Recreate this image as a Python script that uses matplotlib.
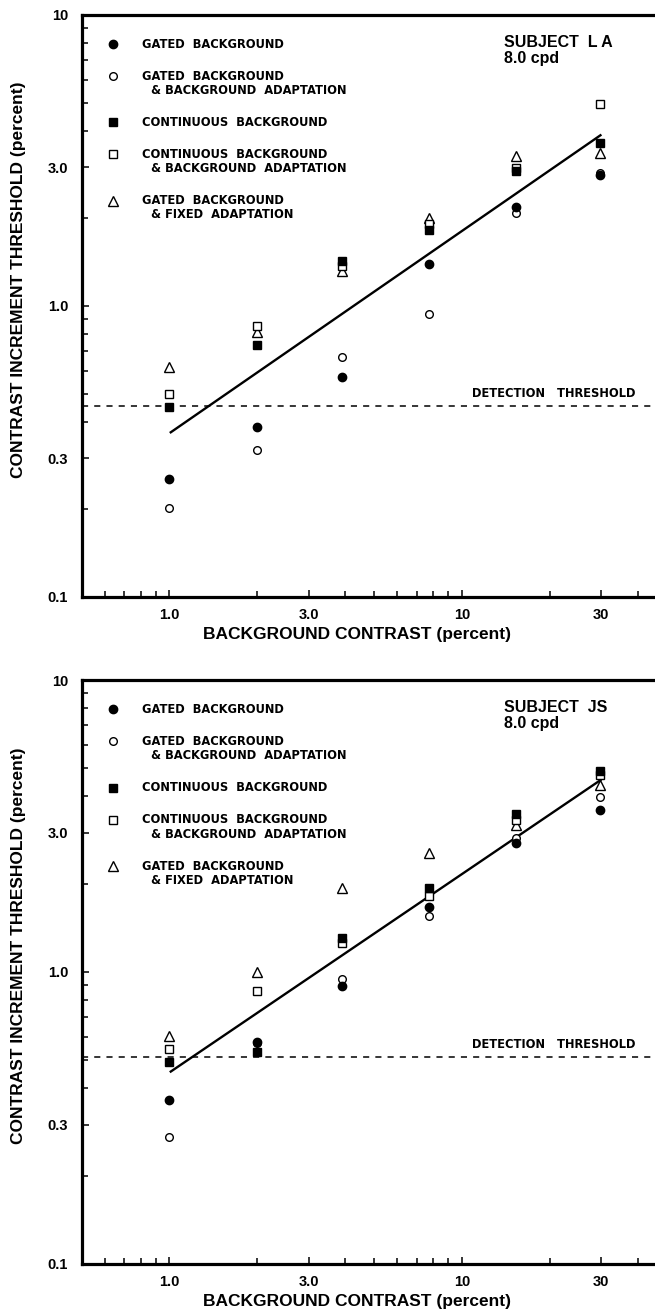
import matplotlib
matplotlib.use("Agg")
import matplotlib.pyplot as plt
from matplotlib.ticker import FixedLocator, FixedFormatter, NullFormatter

# background contrast (percent) used for both subjects
bg_contrast = [1.0, 2.0, 3.9, 7.7, 15.3, 29.8]

# subject LA
la_gated = [0.254, 0.385, 0.571, 1.39, 2.18, 2.82]
la_gated_adapt = [0.202, 0.320, 0.669, 0.94, 2.09, 2.86]
la_cont = [0.449, 0.735, 1.43, 1.83, 2.90, 3.64]
la_cont_adapt = [0.498, 0.853, 1.37, 1.91, 2.97, 4.95]
la_gated_fixed = [0.617, 0.814, 1.32, 2.01, 3.28, 3.35]
la_fit_x = [1.01, 29.8]
la_fit_y = [0.368, 3.86]
la_detection = 0.453

# subject JS
js_gated = [0.365, 0.577, 0.896, 1.67, 2.76, 3.59]
js_gated_adapt = [0.273, 0.570, 0.944, 1.55, 2.87, 3.98]
js_cont = [0.493, 0.533, 1.31, 1.94, 3.48, 4.89]
js_cont_adapt = [0.544, 0.863, 1.26, 1.82, 3.32, 4.73]
js_gated_fixed = [0.604, 1.00, 1.94, 2.56, 3.19, 4.37]
js_fit_x = [1.01, 29.8]
js_fit_y = [0.456, 4.54]
js_detection = 0.513

legend_labels = [
    ["GATED  BACKGROUND"],
    ["GATED  BACKGROUND", "& BACKGROUND  ADAPTATION"],
    ["CONTINUOUS  BACKGROUND"],
    ["CONTINUOUS  BACKGROUND", "& BACKGROUND  ADAPTATION"],
    ["GATED  BACKGROUND", "& FIXED  ADAPTATION"],
]

x_major = [1, 3, 10, 30]
x_major_labels = ["1.0", "3.0", "10", "30"]
x_minor = [0.6, 0.7, 0.8, 0.9, 2, 4, 5, 6, 7, 8, 9, 20, 40]
y_major = [0.1, 0.3, 1, 3, 10]
y_major_labels = ["0.1", "0.3", "1.0", "3.0", "10"]
y_minor = [0.2, 0.4, 0.5, 0.6, 0.7, 0.8, 0.9, 2, 4, 5, 6, 7, 8, 9]

# marker styles, same order as the legend
styles = [
    dict(marker="o", ms=6.0, mfc="black", mec="black"),
    dict(marker="o", ms=5.5, mfc="white", mec="black"),
    dict(marker="s", ms=5.5, mfc="black", mec="black"),
    dict(marker="s", ms=5.5, mfc="white", mec="black"),
    dict(marker="^", ms=6.5, mfc="white", mec="black"),
]

FONT = "Liberation Sans"
LEGFONT = "DejaVu Sans"


def draw_panel(ax, series, fit_x, fit_y, detection, subject):
    ax.set_xscale("log")
    ax.set_yscale("log")
    ax.set_xlim(0.502, 45.8)
    ax.set_ylim(0.1, 10)

    # draw open symbols first, filled on top
    for idx in [4, 3, 1, 2, 0]:
        ax.plot(bg_contrast, series[idx], ls="none", mew=1.0, zorder=3, **styles[idx])

    ax.plot(fit_x, fit_y, color="black", lw=1.7, zorder=2)
    ax.axhline(detection, color="black", lw=1.1, ls=(0, (4, 4)), zorder=1)
    ax.annotate("DETECTION   THRESHOLD", xy=(0.681, detection),
                xycoords=("axes fraction", "data"), xytext=(0, 8.8),
                textcoords="offset points", ha="left", va="center",
                fontsize=8.3, fontweight="bold", family=LEGFONT)

    # legend drawn by hand so markers sit on the first line
    y = 0.950
    for idx, lines in enumerate(legend_labels):
        ax.plot([0.054], [y], transform=ax.transAxes, ls="none", mew=1.0,
                clip_on=False, **styles[idx])
        for j, line in enumerate(lines):
            ax.text(0.104 if j == 0 else 0.120, y - j * 0.0245, line,
                    transform=ax.transAxes, ha="left", va="center",
                    fontsize=8.3, fontweight="bold", family=LEGFONT)
        y -= 0.055 + (len(lines) - 1) * 0.0245

    ax.text(0.736, 0.953, subject, transform=ax.transAxes, ha="left",
            va="center", fontsize=11.5, fontweight="bold", family=FONT)
    ax.text(0.736, 0.926, "8.0 cpd", transform=ax.transAxes, ha="left",
            va="center", fontsize=11.5, fontweight="bold", family=FONT)

    ax.xaxis.set_major_locator(FixedLocator(x_major))
    ax.xaxis.set_major_formatter(FixedFormatter(x_major_labels))
    ax.xaxis.set_minor_locator(FixedLocator(x_minor))
    ax.xaxis.set_minor_formatter(NullFormatter())
    ax.yaxis.set_major_locator(FixedLocator(y_major))
    ax.yaxis.set_major_formatter(FixedFormatter(y_major_labels))
    ax.yaxis.set_minor_locator(FixedLocator(y_minor))
    ax.yaxis.set_minor_formatter(NullFormatter())

    ax.tick_params(which="both", direction="in", width=1.1, color="black")
    ax.tick_params(which="major", length=5)
    ax.tick_params(which="minor", length=4)
    ax.tick_params(axis="x", which="major", pad=8, labelsize=10.5)
    ax.tick_params(axis="y", which="major", pad=10, labelsize=10.5)
    for lab in ax.get_xticklabels() + ax.get_yticklabels():
        lab.set_fontweight("bold")
        lab.set_family(FONT)

    for side in ["left", "bottom", "top"]:
        ax.spines[side].set_linewidth(2.3)
    ax.spines["right"].set_visible(False)

    ax.set_xlabel("BACKGROUND CONTRAST (percent)", fontsize=12.5,
                  fontweight="bold", family=FONT)
    ax.xaxis.set_label_coords(0.48, -0.051)
    ax.set_ylabel("CONTRAST INCREMENT THRESHOLD (percent)", fontsize=12.5,
                  fontweight="bold", family=FONT)
    ax.yaxis.set_label_coords(-0.098, 0.545)


fig = plt.figure(figsize=(6.55, 13.12), dpi=100)
ax_top = fig.add_axes([0.1252, 0.5450, 0.8748, 0.4436])
ax_bot = fig.add_axes([0.1252, 0.0366, 0.8748, 0.4451])

draw_panel(ax_top, [la_gated, la_gated_adapt, la_cont, la_cont_adapt, la_gated_fixed],
           la_fit_x, la_fit_y, la_detection, "SUBJECT  L A")
draw_panel(ax_bot, [js_gated, js_gated_adapt, js_cont, js_cont_adapt, js_gated_fixed],
           js_fit_x, js_fit_y, js_detection, "SUBJECT  JS")

fig.savefig("out.png", dpi=100)
